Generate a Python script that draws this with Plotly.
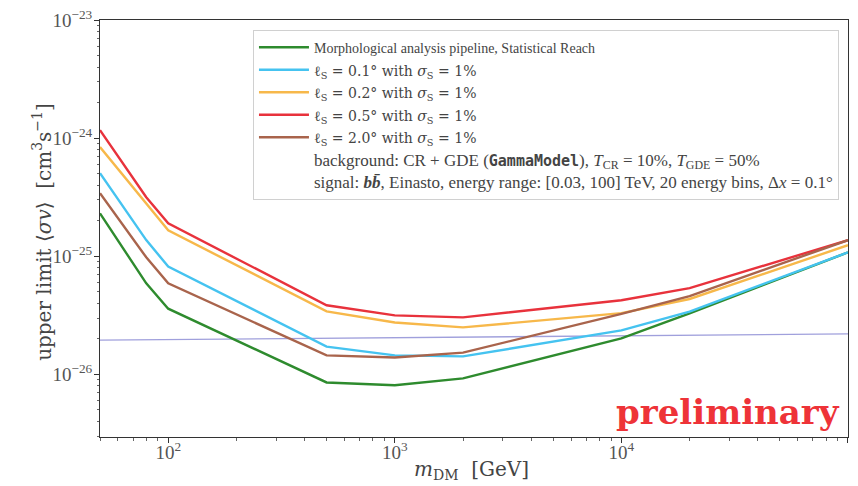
import plotly.graph_objects as go

mass = [50, 80, 100, 500, 1000, 2000, 10000, 20000, 100000]

green = [2.31e-25, 5.9e-26, 3.6e-26, 8.55e-27, 8.1e-27, 9.25e-27, 2.02e-26, 3.29e-26, 1.08e-25]
cyan = [5.05e-25, 1.37e-25, 8.2e-26, 1.72e-26, 1.45e-26, 1.42e-26, 2.36e-26, 3.4e-26, 1.08e-25]
orange = [8.4e-25, 2.8e-25, 1.66e-25, 3.42e-26, 2.75e-26, 2.5e-26, 3.3e-26, 4.35e-26, 1.24e-25]
red = [1.17e-24, 3.16e-25, 1.9e-25, 3.85e-26, 3.16e-26, 3.04e-26, 4.24e-26, 5.37e-26, 1.37e-25]
brown = [3.42e-25, 9.8e-26, 5.9e-26, 1.45e-26, 1.39e-26, 1.53e-26, 3.25e-26, 4.6e-26, 1.37e-25]

relic_mass = [50, 100000]
relic = [1.95e-26, 2.2e-26]

EQ = "&nbsp;=&nbsp;"
MATH = "<span style=\"font-family:'DejaVu Serif';font-size:14px\">{}</span>"
BIG = "<span style=\"font-size:17px\">{}</span>"
names = [
    "<span style=\"font-size:14px\">Morphological analysis pipeline, Statistical Reach</span>",
    MATH.format(f"ℓ<sub>S</sub>{EQ}0.1° with <i>σ</i><sub>S</sub>{EQ}1%"),
    MATH.format(f"ℓ<sub>S</sub>{EQ}0.2° with <i>σ</i><sub>S</sub>{EQ}1%"),
    MATH.format(f"ℓ<sub>S</sub>{EQ}0.5° with <i>σ</i><sub>S</sub>{EQ}1%"),
    MATH.format(f"ℓ<sub>S</sub>{EQ}2.0° with <i>σ</i><sub>S</sub>{EQ}1%"),
]
extra_lines = [
    BIG.format("background: CR + GDE (<span style=\"font-family:'DejaVu Sans Mono';font-size:15px\"><b>GammaModel</b></span>), "
               f"<i>T</i><sub>CR</sub>{EQ}10%, <i>T</i><sub>GDE</sub>{EQ}50%"),
    BIG.format("signal: <b><i>bb̄</i></b>, Einasto, energy range: [0.03,&nbsp;100] TeV, 20 energy bins, "
               f"Δ<i>x</i>{EQ}0.1°"),
]
colors = ["#2e8b2e", "#45c3f0", "#f7b84a", "#e8323c", "#a9644c"]
series = [green, cyan, orange, red, brown]

x_ticks = [100, 1000, 10000, 100000]
x_ticktext = ["10<sup>2</sup>", "10<sup>3</sup>", "10<sup>4</sup>", "10<sup>5</sup>"]
y_ticks = [1e-26, 1e-25, 1e-24, 1e-23]
y_ticktext = ["10<sup>−26</sup>", "10<sup>−25</sup>", "10<sup>−24</sup>", "10<sup>−23</sup>"]

FONT = "Liberation Serif"
TFONT = "DejaVu Serif"

fig = go.Figure()
fig.add_trace(go.Scatter(x=relic_mass, y=relic, mode="lines",
                         line=dict(color="#a0a0dc", width=1.3), showlegend=False))
for name, vals, col in zip(names, series, colors):
    fig.add_trace(go.Scatter(x=mass, y=vals, mode="lines", name=name,
                             line=dict(color=col, width=2.4)))
for txt in extra_lines:
    fig.add_trace(go.Scatter(x=[None], y=[None], mode="lines", name=txt,
                             line=dict(color="rgba(0,0,0,0)", width=0)))

axis_common = dict(
    showline=True, linecolor="#333", linewidth=1, mirror=True, automargin=False,
    ticks="outside", ticklen=5, tickcolor="#333", showgrid=False, zeroline=False,
    tickfont=dict(family=FONT, size=19, color="#555"),
    minor=dict(ticks="outside", ticklen=2.5, tickcolor="#666", showgrid=False, dtick="D1"),
)

fig.update_xaxes(type="log", range=[1.69897, 5.0001], tickvals=x_ticks, ticktext=x_ticktext,
                 ticklabelstandoff=-7, **axis_common)
fig.update_yaxes(type="log", range=[-26.53, -22.9995], tickvals=y_ticks, ticktext=y_ticktext,
                 ticklabelstandoff=-2, **axis_common)

fig.add_annotation(text="upper limit ⟨<i>σv</i>⟩  [cm<sup>3</sup>s<sup>−1</sup>]", textangle=-90,
                   xref="paper", yref="paper", x=-0.0775, y=0.492, xanchor="center", yanchor="middle",
                   showarrow=False, font=dict(family=TFONT, size=20, color="#444"))
fig.add_annotation(text="<i>m</i><sub>DM</sub>  [GeV]",
                   xref="paper", yref="paper", x=0.497, y=-0.08, xanchor="center", yanchor="middle",
                   showarrow=False, font=dict(family=TFONT, size=20, color="#444"))

fig.add_annotation(text="<b>preliminary</b>", xref="paper", yref="paper", x=0.992, y=0.06,
                   xanchor="right", yanchor="middle", showarrow=False,
                   font=dict(family="DejaVu Serif", size=34, color="#ee3338"))

fig.update_layout(
    width=858, height=486,
    margin=dict(l=100, r=10, t=20, b=49),
    paper_bgcolor="white", plot_bgcolor="white",
    legend=dict(x=0.2045, y=0.976, xanchor="left", yanchor="top",
                bgcolor="white", bordercolor="#d0d0d0", borderwidth=1, itemwidth=50,
                font=dict(family=FONT, size=15, color="#444"), tracegroupgap=0),
)

fig.write_html("out.html", config={"displayModeBar": False},
               post_script="document.body.style.margin='0';document.body.style.overflow='hidden';")
